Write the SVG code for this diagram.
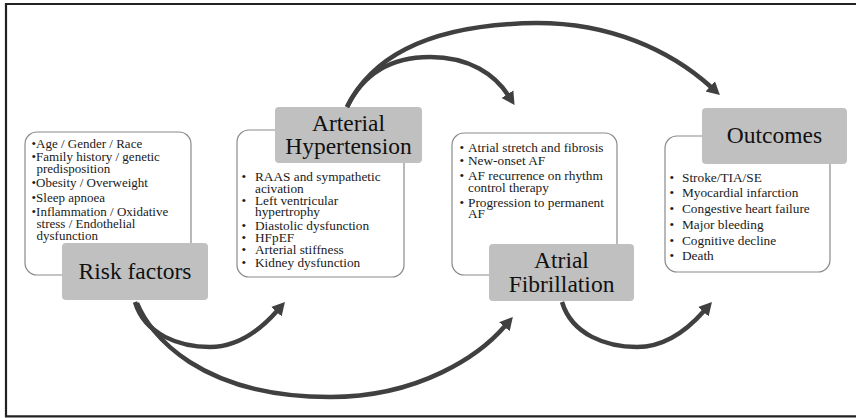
<svg xmlns="http://www.w3.org/2000/svg" width="856" height="418" viewBox="0 0 856 418">
<defs>
<style>
.frame{fill:none;stroke:#222;stroke-width:2.2}
.list{fill:#fff;stroke:#8a8a8a;stroke-width:1.2}
.label{fill:#c0c0c0;stroke:none}
.lt{font-family:"Liberation Serif","Times New Roman",serif;font-size:23.5px;fill:#111;text-anchor:middle}
.t{font-family:"Liberation Serif","Times New Roman",serif;font-size:13.3px;fill:#1a1a1a}
.rf{font-size:13px}
.arr{fill:none;stroke:#404040;stroke-width:4.5;stroke-linecap:butt}
</style>
<marker id="ah" markerUnits="userSpaceOnUse" markerWidth="16" markerHeight="16" refX="1" refY="8" orient="auto">
<path d="M0,1 L13,8 L0,15 Z" fill="#404040"/>
</marker>
</defs>
<rect width="856" height="418" fill="#fff"/>
<path class="frame" d="M856,4 H6 V416.3 H856"/>

<g id="risk-factors">
<rect class="list" x="25" y="132" width="166" height="143" rx="12"/>
<g class="t rf">
<text x="31.5" y="147.5">•Age / Gender / Race</text>
<text x="31.5" y="161">•Family history / genetic</text>
<text x="36.5" y="173">predisposition</text>
<text x="31.5" y="187">•Obesity / Overweight</text>
<text x="31.5" y="201.5">•Sleep apnoea</text>
<text x="31.5" y="215.5">•Inflammation / Oxidative</text>
<text x="36.5" y="227.5">stress / Endothelial</text>
<text x="36.5" y="239.5">dysfunction</text>
</g>
<rect class="label" x="62" y="243" width="146" height="57" rx="4"/>
<text class="lt" x="135" y="279.3">Risk factors</text>
</g>

<g id="arterial-hypertension">
<rect class="list" x="237" y="130" width="167" height="147" rx="12"/>
<g class="t">
<text x="241.5" y="181">•</text><text x="255" y="181">RAAS and sympathetic</text>
<text x="255" y="192.5">acivation</text>
<text x="241.5" y="205">•</text><text x="255" y="205">Left ventricular</text>
<text x="255" y="216">hypertrophy</text>
<text x="241.5" y="230">•</text><text x="255" y="230">Diastolic dysfunction</text>
<text x="241.5" y="241.5">•</text><text x="255" y="241.5">HFpEF</text>
<text x="241.5" y="254">•</text><text x="255" y="254">Arterial stiffness</text>
<text x="241.5" y="266.5">•</text><text x="255" y="266.5">Kidney dysfunction</text>
</g>
<rect class="label" x="275" y="107" width="147" height="56" rx="4"/>
<text class="lt" x="348.5" y="130.5">Arterial</text>
<text class="lt" x="348.5" y="154">Hypertension</text>
</g>

<g id="atrial-fibrillation">
<rect class="list" x="452" y="133" width="165" height="142" rx="12"/>
<g class="t">
<text x="459.5" y="151.5">•</text><text x="468" y="151.5">Atrial stretch and fibrosis</text>
<text x="459.5" y="165">•</text><text x="468" y="165">New-onset AF</text>
<text x="459.5" y="180">•</text><text x="468" y="180">AF recurrence on rhythm</text>
<text x="468" y="191.5">control therapy</text>
<text x="459.5" y="206.5">•</text><text x="468" y="206.5">Progression to permanent</text>
<text x="468" y="218">AF</text>
</g>
<rect class="label" x="489" y="244" width="145" height="57" rx="4"/>
<text class="lt" x="561.5" y="268.3">Atrial</text>
<text class="lt" x="561.5" y="291.7">Fibrillation</text>
</g>

<g id="outcomes">
<rect class="list" x="665" y="136" width="165" height="136" rx="12"/>
<g class="t">
<text x="669.5" y="181.5">•</text><text x="682" y="181.5">Stroke/TIA/SE</text>
<text x="669.5" y="197">•</text><text x="682" y="197">Myocardial infarction</text>
<text x="669.5" y="213">•</text><text x="682" y="213">Congestive heart failure</text>
<text x="669.5" y="228.5">•</text><text x="682" y="228.5">Major bleeding</text>
<text x="669.5" y="244.5">•</text><text x="682" y="244.5">Cognitive decline</text>
<text x="669.5" y="260">•</text><text x="682" y="260">Death</text>
</g>
<rect class="label" x="702" y="108" width="145" height="56" rx="4"/>
<text class="lt" x="774.5" y="143.3">Outcomes</text>
</g>

<g id="connectors">
<path class="arr" marker-end="url(#ah)" d="M135,302 C145,335 180,347 210,347 C240,347 262,328 277,311"/>
<path class="arr" marker-end="url(#ah)" d="M137,303 C150,335 200,397 330,397 C420,397 480,355 505,326"/>
<path class="arr" marker-end="url(#ah)" d="M562,302 C572,335 607,347 637,347 C667,347 689,328 704,311"/>
<path class="arr" marker-end="url(#ah)" d="M347,107 C365,70 395,57 430,57 C470,57 495,75 508,95"/>
<path class="arr" marker-end="url(#ah)" d="M347,107 C375,50 440,24 537,23 C610,23 670,50 711,87"/>
</g>
</svg>
